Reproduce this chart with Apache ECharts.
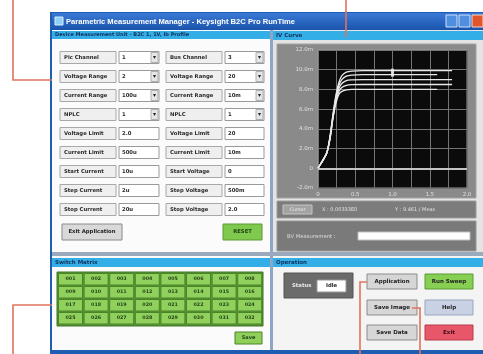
<!DOCTYPE html>
<html>
<head>
<meta charset="utf-8">
<script src="https://cdn.jsdelivr.net/npm/echarts@6/dist/echarts.min.js"></script>
<style>
  html, body { margin: 0; padding: 0; background: #fff; }
  #main { width: 483px; height: 354px; }
</style>
</head>
<body>
<div id="main"></div>
<script>
// ---- data ----
var xMin = 0, xMax = 2, xStep = 0.5;
var yMin = -2, yMax = 12, yStep = 2;

var curveNames = ['Ib 1', 'Ib 2', 'Ib 3', 'Ib 4', 'Ib 5'];
var curveA = [[0,0],[0.04,0.5],[0.08,1.0],[0.12,1.6],[0.16,3.2],[0.2,5.4],[0.24,7.4],[0.28,8.7],[0.32,9.4],[0.38,9.75],[0.45,9.85],[0.6,9.9],[1.0,9.9],[1.4,9.9],[1.8,9.9]];
var curveB = [[0,0],[0.04,0.5],[0.08,1.0],[0.12,1.6],[0.16,3.1],[0.2,5.3],[0.24,7.2],[0.28,8.4],[0.32,9.0],[0.38,9.35],[0.45,9.45],[0.6,9.5],[1.0,9.5],[1.6,9.5]];
var curveC = [[0,0],[0.04,0.5],[0.08,1.0],[0.12,1.6],[0.16,3.0],[0.2,5.2],[0.24,7.0],[0.28,8.1],[0.32,8.6],[0.38,8.9],[0.45,8.97],[0.6,9.0],[1.0,9.0],[1.4,9.0],[1.8,9.0]];
var curveD = [[0,0],[0.04,0.5],[0.08,1.0],[0.12,1.6],[0.16,3.0],[0.2,5.1],[0.24,6.8],[0.28,7.8],[0.32,8.2],[0.38,8.4],[0.45,8.48],[0.6,8.5],[1.0,8.5],[1.4,8.5],[1.8,8.5]];
var curveE = [[0,0],[0.04,0.5],[0.08,1.0],[0.12,1.6],[0.16,2.9],[0.2,5.0],[0.24,6.6],[0.28,7.5],[0.32,7.8],[0.38,7.95],[0.45,8.0],[0.6,8.0],[1.0,8.0],[1.6,8.0]];
var cursorPoint = [[1.0, 9.7]];

var leftLabels  = ['Pic Channel', 'Voltage Range', 'Current Range', 'NPLC', 'Voltage Limit', 'Current Limit', 'Start Current', 'Step Current', 'Stop Current'];
var leftValues  = ['1', '2', '100u', '1', '2.0', '500u', '10u', '2u', '20u'];
var rightLabels = ['Bus Channel', 'Voltage Range', 'Current Range', 'NPLC', 'Voltage Limit', 'Current Limit', 'Start Voltage', 'Step Voltage', 'Stop Voltage'];
var rightValues = ['3', '20', '10m', '1', '20', '10m', '0', '500m', '2.0'];
var comboRows = 4;

var switchLabels = [
  ['001','002','003','004','005','006','007','008'],
  ['009','010','011','012','013','014','015','016'],
  ['017','018','019','020','021','022','023','024'],
  ['025','026','027','028','029','030','031','032']
];

// ---- helpers for the window chrome ----
var FONT = '"DejaVu Sans", sans-serif';
var g = [];
function box(x, y, w, h, fill, stroke, z) {
  g.push({ type: 'rect', silent: true, z: z == null ? -10 : z,
    shape: { x: x, y: y, width: w, height: h },
    style: { fill: fill, stroke: stroke || null, lineWidth: 1 } });
}
function label(x, y, str, color, size, align, bold, family) {
  g.push({ type: 'text', silent: true, z: -5, x: x, y: y,
    style: { text: str, fill: color, font: (bold ? 'bold ' : '') + size + 'px ' + (family || FONT),
      align: align || 'left', verticalAlign: 'middle' } });
}
function line(pts, color, w, z) {
  g.push({ type: 'polyline', silent: true, z: z == null ? -4 : z,
    shape: { points: pts }, style: { stroke: color, lineWidth: w, fill: null } });
}
function button(x, y, w, h, fill, stroke, str, color, size) {
  box(x, y, w, h, fill, stroke, -8);
  label(x + w / 2, y + h / 2, str, color || '#222', size || 5.5, 'center', true);
}

// window frame and title bar
box(50, 12, 440, 342, '#1f5db3');
g.push({ type: 'rect', silent: true, z: -9, shape: { x: 52, y: 13, width: 431, height: 17 },
  style: { fill: new echarts.graphic.LinearGradient(0, 0, 0, 1, [
    { offset: 0, color: '#3a7ad6' }, { offset: 1, color: '#1a53ab' }]) } });
box(55, 17, 8, 8, '#8fd0f5', '#d7efff', -8);
label(66, 21.5, 'Parametric Measurement Manager - Keysight B2C Pro RunTime', '#ffffff', 7.6, 'left', true, '"Liberation Sans", sans-serif');
box(446, 15, 11, 12, '#4f8fe0', '#cfe1fb', -8);
box(459, 15, 11, 12, '#4f8fe0', '#cfe1fb', -8);
box(472, 15, 11, 12, '#e0552b', '#fbd6c9', -8);

// panels
box(52, 30, 218, 222, '#fbfbfb');
box(273, 30, 210, 222, '#e4e4e4');
box(270, 30, 3, 324, '#8ea6c6');
box(52, 252, 431, 4, '#9aa9bc');
box(52, 256, 218, 95, '#fbfbfb');
box(273, 256, 210, 95, '#f4f4f4');
box(50, 350, 433, 4, '#1f5db3');

// panel headers
box(52, 31, 218, 8, '#33aee6', null, -9);
label(55, 35, 'Device Measurement Unit - B2C 1, 1V, Ib Profile', '#10305a', 5, 'left', true);
box(273, 31, 210, 9, '#33aee6', null, -9);
label(276, 35.5, 'IV Curve', '#10305a', 5.5, 'left', true);
box(52, 258, 218, 9, '#33aee6', null, -9);
label(55, 262.5, 'Switch Matrix', '#10305a', 5.5, 'left', true);
box(273, 258, 210, 9, '#33aee6', null, -9);
label(276, 262.5, 'Operation', '#10305a', 5.5, 'left', true);

// measurement form
leftLabels.forEach(function (t, i) {
  var cy = 57.5 + i * 19;
  box(60, cy - 6, 56, 12, '#efefef', '#a8a8a8', -8);
  label(64, cy, t, '#2a2a2a', 5.3, 'left', true);
  box(119, cy - 6, 40, 12, '#ffffff', '#9a9a9a', -8);
  label(122, cy, leftValues[i], '#2a2a2a', 5.3, 'left', true);
  box(166, cy - 6, 56, 12, '#efefef', '#a8a8a8', -8);
  label(170, cy, rightLabels[i], '#2a2a2a', 5.3, 'left', true);
  box(225, cy - 6, 39, 12, '#ffffff', '#9a9a9a', -8);
  label(228, cy, rightValues[i], '#2a2a2a', 5.3, 'left', true);
  if (i < comboRows) {
    box(151, cy - 5, 7, 10, '#e6e6e6', '#b0b0b0', -7);
    label(154.5, cy, '▾', '#222', 6, 'center');
    box(256, cy - 5, 7, 10, '#e6e6e6', '#b0b0b0', -7);
    label(259.5, cy, '▾', '#222', 6, 'center');
  }
});
button(62, 224, 60, 16, '#d9d9d9', '#8a8a8a', 'Exit Application', '#222', 5.3);
button(223, 224, 39, 16, '#7fc94f', '#5c9a35', 'RESET', '#1d3d10', 5.3);

// switch matrix
box(57, 272, 206, 54, '#5b9736', '#3f7422', -9);
switchLabels.forEach(function (row, r) {
  row.forEach(function (t, c) {
    button(58.5 + c * 25.6, 273.5 + r * 13, 24, 11.5, '#90d05c', '#4a8429', t, '#24421a', 4.8);
  });
});
button(235, 332, 27, 12, '#8fcf5a', '#4a8429', 'Save', '#24421a', 5);

// operation panel
box(284, 273, 69, 25, '#6b6b6b', '#555', -8);
label(292, 285.5, 'Status', '#e8e8e8', 5.3, 'left', true);
button(317, 280, 29, 12, '#ffffff', '#999', 'Idle', '#222', 5.3);
button(367, 274, 50, 15, '#d6d6d6', '#8c8c8c', 'Application');
button(367, 300, 50, 15, '#d6d6d6', '#8c8c8c', 'Save Image');
button(367, 325, 50, 15, '#d6d6d6', '#8c8c8c', 'Save Data');
button(425, 274, 48, 15, '#86cf53', '#5a9a34', 'Run Sweep');
button(425, 300, 48, 15, '#c9d2e4', '#9aa6bd', 'Help');
button(425, 325, 48, 15, '#e8566a', '#b93a4b', 'Exit', '#3a0c12');

// IV curve frame, cursor bar, BV field
box(277, 44, 199, 154, '#8a8a8a', '#a2a2a2');
box(277, 201, 199, 17, '#7c7c7c', '#9a9a9a');
box(283, 205, 29, 9, '#a3a3a3', '#c4c4c4', -8);
label(297.5, 209.5, 'Cursor', '#eeeeee', 4.8, 'center');
label(322, 209.5, 'X : 0.00333E0', '#e2e2e2', 5, 'left');
label(395, 209.5, 'Y : 9.461 / Meas', '#e2e2e2', 5, 'left');
box(277, 221, 199, 30, '#7a7a7a', '#969696');
label(287, 236.5, 'BV Measurement :', '#dcdcdc', 5.3, 'left');
box(358, 232, 112, 8, '#ffffff', '#bdbdbd', -8);

// callout lines
var red = '#e0735c';
line([[13, 0], [13, 80], [52, 80]], red, 1.6, 10);
line([[346, 0], [346, 37]], red, 1.6, 10);
line([[13, 354], [13, 305], [52, 305]], red, 1.6, 10);
line([[360, 354], [360, 282], [367, 282]], red, 1.6, 10);
line([[420, 354], [420, 308], [412, 308]], red, 1.6, 10);

// ---- the I-V chart ----
var curves = [curveA, curveB, curveC, curveD, curveE];
var series = curves.map(function (d, i) {
  var s = {
    name: curveNames[i], type: 'line', data: d, smooth: 0.3,
    symbol: 'none', lineStyle: { color: '#e9e9e9', width: 1.3 }
  };
  if (i === 0) {
    s.markLine = { silent: true, symbol: 'none', label: { show: false },
      lineStyle: { color: '#c4c4c4', width: 2, type: 'solid' }, data: [{ yAxis: 0 }] };
  }
  return s;
});
series.push({ type: 'scatter', data: cursorPoint, symbol: 'rect', symbolSize: [3, 8],
  itemStyle: { color: '#ffffff' } });

var option = {
  animation: false,
  backgroundColor: '#ffffff',
  graphic: g,
  grid: { left: 318, top: 50, width: 149, height: 138, show: true,
    backgroundColor: '#0b0b0b', borderColor: '#9a9a9a', borderWidth: 1 },
  xAxis: {
    type: 'value', min: xMin, max: xMax, interval: xStep,
    axisLine: { show: false }, axisTick: { show: false },
    axisLabel: { color: '#e0e0e0', fontSize: 5.5, fontFamily: 'DejaVu Sans', margin: 4,
      formatter: function (v) { return v === 0 ? '0' : v.toFixed(1); } },
    splitLine: { lineStyle: { color: '#747474', width: 1 } },
    minorTick: { show: false, splitNumber: 2 },
    minorSplitLine: { show: true, lineStyle: { color: '#747474', width: 1 } }
  },
  yAxis: {
    type: 'value', min: yMin, max: yMax, interval: yStep,
    axisLine: { show: false }, axisTick: { show: false },
    axisLabel: { color: '#e0e0e0', fontSize: 5.5, fontFamily: 'DejaVu Sans', margin: 5,
      formatter: function (v) { return v === 0 ? '0' : v.toFixed(1) + 'm'; } },
    splitLine: { lineStyle: { color: '#747474', width: 1 } }
  },
  series: series
};

var myChart = echarts.init(document.getElementById('main'));
myChart.setOption(option);
</script>
</body>
</html>
